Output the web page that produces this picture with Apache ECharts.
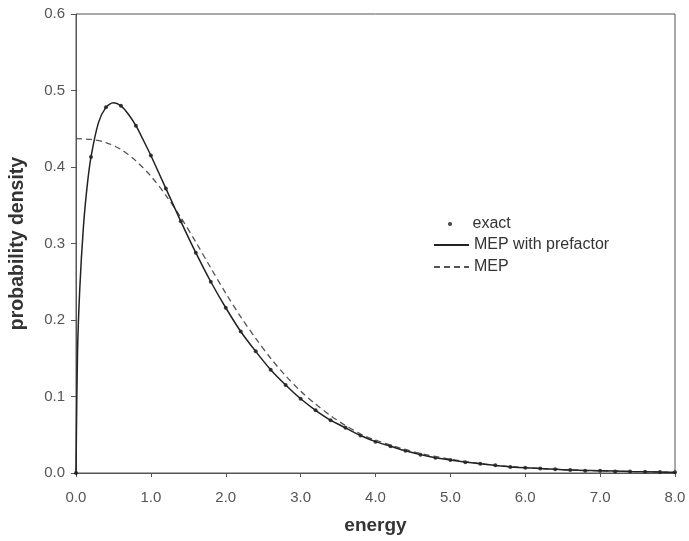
<!DOCTYPE html>
<html>
<head>
<meta charset="utf-8">
<script src="https://cdn.jsdelivr.net/npm/echarts@6/dist/echarts.min.js"></script>
<style>
html,body{margin:0;padding:0;background:#fff;}
#chart{width:689px;height:541px;}
</style>
</head>
<body>
<div id="chart"></div>
<script>
// exact points
var energyExact = [0.0,0.2,0.4,0.6,0.8,1.0,1.2,1.4,1.6,1.8,2.0,2.2,2.4,2.6,2.8,3.0,3.2,3.4,3.6,3.8,4.0,4.2,4.4,4.6,4.8,5.0,5.2,5.4,5.6,5.8,6.0,6.2,6.4,6.6,6.8,7.0,7.2,7.4,7.6,7.8,8.0];
var densityExact = [0.0,0.413,0.478,0.480,0.454,0.415,0.372,0.329,0.288,0.250,0.216,0.185,0.159,0.135,0.115,0.097,0.082,0.069,0.059,0.049,0.041,0.035,0.029,0.024,0.020,0.017,0.014,0.012,0.010,0.008,0.007,0.006,0.005,0.004,0.003,0.003,0.002,0.002,0.0015,0.0012,0.0011];

// MEP with prefactor (solid)
var energyPref = [0.0,0.02,0.05,0.1,0.15,0.2,0.3,0.4,0.5,0.6,0.7,0.8,0.9,1.0,1.2,1.4,1.6,1.8,2.0,2.2,2.4,2.6,2.8,3.0,3.2,3.4,3.6,3.8,4.0,4.2,4.4,4.6,4.8,5.0,5.4,5.8,6.2,6.6,7.0,7.4,7.8,8.0];
var densityPref = [0.0,0.156,0.240,0.323,0.376,0.413,0.458,0.478,0.484,0.480,0.469,0.454,0.435,0.415,0.372,0.329,0.288,0.250,0.216,0.185,0.159,0.135,0.115,0.097,0.082,0.069,0.059,0.049,0.041,0.035,0.029,0.024,0.020,0.017,0.012,0.008,0.006,0.004,0.003,0.002,0.0012,0.0011];

// MEP (dashed)
var energyMEP = [0.0,0.2,0.4,0.6,0.8,1.0,1.2,1.4,1.6,1.8,2.0,2.2,2.4,2.6,2.8,3.0,3.2,3.4,3.6,3.8,4.0,4.5,5.0,5.5,6.0,6.5,7.0,7.5,8.0];
var densityMEP = [0.437,0.436,0.432,0.423,0.408,0.388,0.363,0.334,0.302,0.268,0.235,0.204,0.176,0.150,0.127,0.107,0.090,0.075,0.062,0.051,0.043,0.028,0.018,0.011,0.007,0.0044,0.0028,0.0018,0.0011];

var xTicks = ['0.0','1.0','2.0','3.0','4.0','5.0','6.0','7.0','8.0'];
var yTicks = ['0.0','0.1','0.2','0.3','0.4','0.5','0.6'];

function pairs(xs, ys){ return xs.map(function(x,i){ return [x, ys[i]]; }); }

var chart = echarts.init(document.getElementById('chart'), null, {renderer:'canvas'});
var font = 'Liberation Sans, Arial, sans-serif';
chart.setOption({
  animation:false,
  backgroundColor:'#fff',
  grid:{left:71,right:14,top:14,bottom:68,show:true,borderColor:'#555',borderWidth:1},
  legend:[{
    data:['exact'],
    orient:'vertical', left:448, top:216, padding:0,
    itemWidth:35, itemHeight:4,
    textStyle:{fontFamily:font,fontSize:16,color:'#333'}
  },{
    data:['MEP with prefactor','MEP'],
    orient:'vertical', left:433, top:237, padding:0,
    itemWidth:35, itemHeight:10, itemGap:6,
    textStyle:{fontFamily:font,fontSize:16,color:'#333'}
  }],
  xAxis:{
    type:'value', min:0, max:8, interval:1,
    name:'energy', nameLocation:'middle', nameGap:43,
    nameTextStyle:{fontFamily:font,fontSize:19,fontWeight:'bold',color:'#333'},
    axisLine:{lineStyle:{color:'#555',width:1}},
    axisTick:{show:true,length:4,lineStyle:{color:'#555'}},
    axisLabel:{fontFamily:font,fontSize:15,color:'#555',margin:17,
      formatter:function(v){ return xTicks[Math.round(v)]; }},
    splitLine:{show:false}
  },
  yAxis:{
    type:'value', min:0, max:0.6, interval:0.1,
    name:'probability density', nameLocation:'middle', nameGap:48,
    nameTextStyle:{fontFamily:font,fontSize:19.5,fontWeight:'bold',color:'#333'},
    axisLine:{show:true,lineStyle:{color:'#555',width:1}},
    axisTick:{show:true,length:5,lineStyle:{color:'#555'}},
    axisLabel:{fontFamily:font,fontSize:15,color:'#555',margin:11,
      formatter:function(v){ return yTicks[Math.round(v*10)]; }},
    splitLine:{show:false}
  },
  series:[{
    name:'MEP', type:'line', data:pairs(energyMEP,densityMEP),
    symbol:'none', smooth:0.3,
    lineStyle:{color:'#555',width:1.3,type:[6,4]},
    itemStyle:{color:'rgba(0,0,0,0)'}
  },{
    name:'MEP with prefactor', type:'line', data:pairs(energyPref,densityPref),
    symbol:'none', smooth:0.3,
    lineStyle:{color:'#222',width:1.5},
    itemStyle:{color:'rgba(0,0,0,0)'}
  },{
    name:'exact', type:'scatter', data:pairs(energyExact,densityExact),
    symbol:'circle', symbolSize:4,
    itemStyle:{color:'#111'}
  }]
});
</script>
</body>
</html>
